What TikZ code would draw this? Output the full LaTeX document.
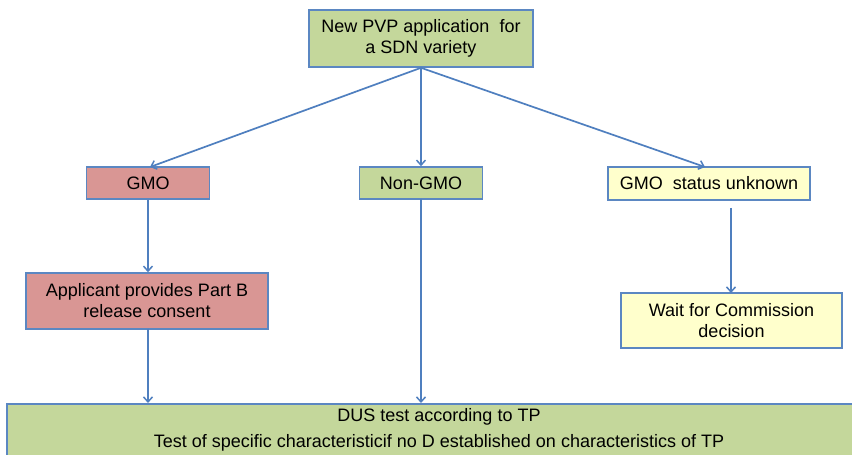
\documentclass[tikz,border=0pt]{standalone}
\usepackage{fontspec}
\setmainfont{Liberation Sans}
\usetikzlibrary{arrows.meta}
\definecolor{bordc}{HTML}{5B87C2}
\definecolor{arrc}{HTML}{4F7FBF}
\definecolor{grn}{HTML}{C4D79B}
\definecolor{redf}{HTML}{D99694}
\definecolor{yel}{HTML}{FFFFCC}
\tikzset{
  txt/.style={font=\fontsize{18}{21}\selectfont},
  box/.style={txt, draw=bordc, line width=1.6pt, align=center, inner sep=0pt},
  conn/.style={draw=arrc, line width=1.7pt, -{Straight Barb[length=5pt,width=9pt,line width=1.5pt]}}
}
\begin{document}
\begin{tikzpicture}[x=1pt,y=1pt]
\clip (0,0) rectangle (852,455);
\fill[white] (0,0) rectangle (852,455);
\node[box, fill=grn, minimum width=224, minimum height=57] (top) at (421,416.5) {New PVP application\ \ for\\a SDN variety};
\node[box, fill=redf, minimum width=123, minimum height=32] (gmo) at (148,272) {GMO};
\node[box, fill=grn, minimum width=123, minimum height=32] (non) at (421,272) {Non-GMO};
\node[box, fill=yel, minimum width=202, minimum height=33] (unk) at (709,271.5) {GMO\ \ status unknown};
\node[box, fill=redf, minimum width=242, minimum height=56] (app) at (147,154) {Applicant provides Part B\\release consent};
\node[box, fill=yel, minimum width=221, minimum height=55] (wait) at (731.5,134.5) {Wait for Commission\\decision};
\node[box, fill=grn, anchor=north west, minimum width=880, minimum height=80] (dus) at (6,52) {};
\node[txt, inner sep=0pt] (dus1) at (439,38.5) {DUS test according to TP};
\node[txt, inner sep=0pt] (dus2) at (439,12.5) {Test of specific characteristicif no D established on characteristics of TP};
\coordinate (gmoin) at (150,288);
\coordinate (unkin) at (705,288);
\coordinate (unkout) at (731,247);
\coordinate (waitin) at (731,162);
\coordinate (appout) at (148,126);
\coordinate (appin) at (148,52);
\coordinate (nonout) at (421,256);
\coordinate (nonin) at (421,52);
\draw[conn] (top.south) -- (gmoin);
\draw[conn] (top.south) -- (non.north);
\draw[conn] (top.south) -- (unkin);
\draw[conn] (gmo.south) -- (app.north -| gmo.south);
\draw[conn] (unkout) -- (waitin);
\draw[conn] (appout) -- (appin);
\draw[conn] (nonout) -- (nonin);
\end{tikzpicture}
\end{document}
